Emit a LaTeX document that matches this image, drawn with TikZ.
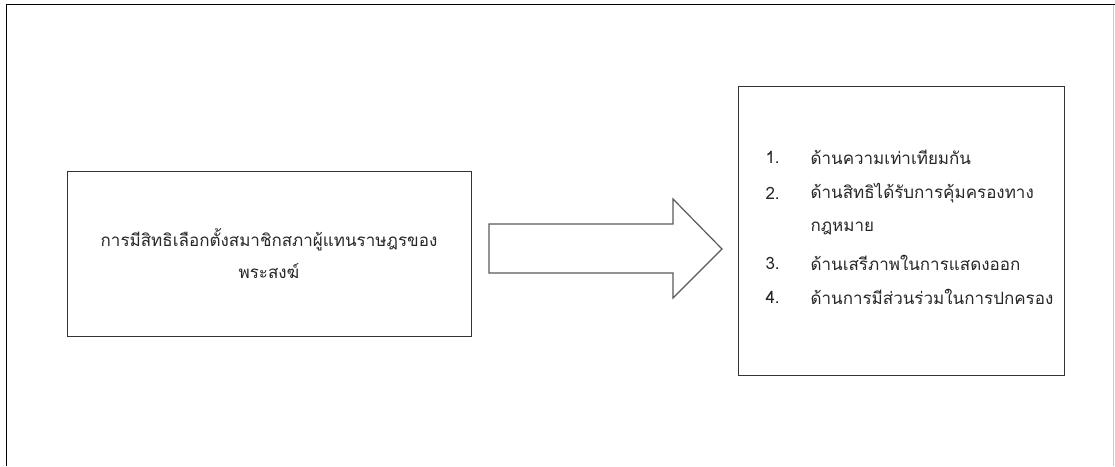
\documentclass[tikz,border=0pt]{standalone}
\usepackage{fontspec}
\newfontfamily\thaifont[Script=Thai]{Loma}
\begin{document}
\begin{tikzpicture}[x=1pt,y=-1pt,
  box/.style={draw=black!80, line width=1.4pt},
  thai/.style={font=\thaifont\fontsize{17}{32}\selectfont, text=black!85},
  bigarrow/.style={draw=black!65, line width=1.2pt, line join=miter}]
  \useasboundingbox (0,0) rectangle (1115,466);
  % page frame
  \draw[line width=1.6pt] (6.5,466) -- (6.5,4.5) -- (1115,4.5);
  \draw[black!20, line width=0.8pt] (1113.5,4.5) -- (1113.5,466);

  % left box
  \node[box, minimum width=404pt, minimum height=165pt, anchor=north west]
    (src) at (67,171) {};
  \node[thai, align=center, anchor=center] (srctext) at (269,254)
    {การมีสิทธิเลือกตั้งสมาชิกสภาผู้แทนราษฎรของ\\พระสงฆ์};

  % right box
  \node[box, minimum width=326pt, minimum height=289pt, anchor=north west]
    (dst) at (738,86) {};

  % list in right box
  \foreach \n/\y/\t in {1./157/ด้านความเท่าเทียมกัน,
                        2./193/ด้านสิทธิได้รับการคุ้มครองทาง,
                        /228/กฎหมาย,
                        3./263/ด้านเสรีภาพในการแสดงออก,
                        4./297/ด้านการมีส่วนร่วมในการปกครอง} {
    \node[thai, anchor=west] at (762,\y) {\n};
    \node[thai, anchor=west] at (807,\y) {\t};
  }

  % block arrow between the boxes
  \coordinate (a1) at (489,224);
  \coordinate (a2) at (673,224);
  \coordinate (a3) at (673,199);
  \coordinate (tip) at (722,249);
  \coordinate (a5) at (673,298);
  \coordinate (a6) at (673,273);
  \coordinate (a7) at (489,273);
  \draw[bigarrow] (a1) -- (a2) -- (a3) -- (tip) -- (a5) -- (a6) -- (a7) -- cycle;
\end{tikzpicture}
\end{document}
